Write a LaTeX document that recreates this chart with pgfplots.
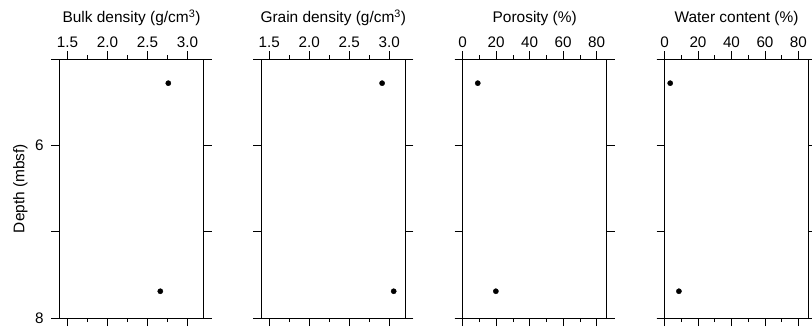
\documentclass[border=0pt]{standalone}
\usepackage{fontspec}
\setmainfont{Liberation Sans}
\usepackage{pgfplots}
\pgfplotsset{compat=1.18}
\pgfplotsset{
 base/.style={scale only axis, height=259bp, ymin=5, ymax=8, y dir=reverse,
   tick align=outside, major tick length=8bp, minor tick length=4bp,
   axis line style={line width=0.8bp, black},
   every tick/.style={line width=0.8bp, black},
   /pgf/number format/assume math mode=true,
   tick label style={font=\fontsize{15.3}{17}\selectfont},
   anchor=south west},
 outer/.style={base, width=160bp, axis x line=box, axis y line=none, ytick=\empty,
   xticklabel pos=upper,
   title style={font=\fontsize{15.5}{17}\selectfont, at={(0.5,1)}, anchor=base, yshift=30.3bp}},
 inner/.style={base, width=144bp, axis x line=none, axis y line=box, xtick=\empty,
   ytick={5,6,7,8}, yticklabel pos=left, yticklabel style={xshift=-4.5bp}},
 dots/.style={only marks, mark=*, mark size=2.6bp, black},
}
\begin{document}
\begin{tikzpicture}
\path[use as bounding box] (0bp,0bp) rectangle (812bp,327bp);
% Panel 1: Bulk density
\begin{axis}[outer, at={(51.5bp,9bp)}, xmin=1.3, xmax=3.3,
  xtick={1.5,2,2.5,3}, minor xtick={1.75,2.25,2.75},
  xticklabel style={/pgf/number format/.cd, fixed, fixed zerofill, precision=1},
  title={Bulk density (g/cm\textsuperscript{3})}]
\end{axis}
\begin{axis}[inner, at={(59.5bp,9bp)}, xmin=1.4, xmax=3.2,
  yticklabels={,6,,8}, ylabel={Depth (mbsf)},
  ylabel style={font=\fontsize{15.5}{17}\selectfont, at={(axis description cs:-0.2708,0.5)}, anchor=center}]
\addplot[dots] coordinates {(2.76,5.28) (2.66,7.69)};
\end{axis}
% Panel 2: Grain density
\begin{axis}[outer, at={(253.3bp,9bp)}, xmin=1.3, xmax=3.3,
  xtick={1.5,2,2.5,3}, minor xtick={1.75,2.25,2.75},
  xticklabel style={/pgf/number format/.cd, fixed, fixed zerofill, precision=1},
  title={Grain density (g/cm\textsuperscript{3})}]
\end{axis}
\begin{axis}[inner, at={(261.3bp,9bp)}, xmin=1.4, xmax=3.2, yticklabels={,,,}]
\addplot[dots] coordinates {(2.91,5.28) (3.055,7.69)};
\end{axis}
% Panel 3: Porosity
\begin{axis}[outer, at={(454.7bp,9bp)}, xmin=-4.778, xmax=90.778,
  xtick={0,20,40,60,80}, minor xtick={10,30,50,70},
  title={Porosity (\%)}]
\end{axis}
\begin{axis}[inner, at={(462.7bp,9bp)}, xmin=0, xmax=86, yticklabels={,,,}]
\addplot[dots] coordinates {(9,5.28) (19.8,7.69)};
\end{axis}
% Panel 4: Water content
\begin{axis}[outer, at={(656.5bp,9bp)}, xmin=-4.778, xmax=90.778,
  xtick={0,20,40,60,80}, minor xtick={10,30,50,70},
  title={Water content (\%)}]
\end{axis}
\begin{axis}[inner, at={(664.5bp,9bp)}, xmin=0, xmax=86, yticklabels={,,,}]
\addplot[dots] coordinates {(3.4,5.28) (8.6,7.69)};
\end{axis}
\end{tikzpicture}
\end{document}
